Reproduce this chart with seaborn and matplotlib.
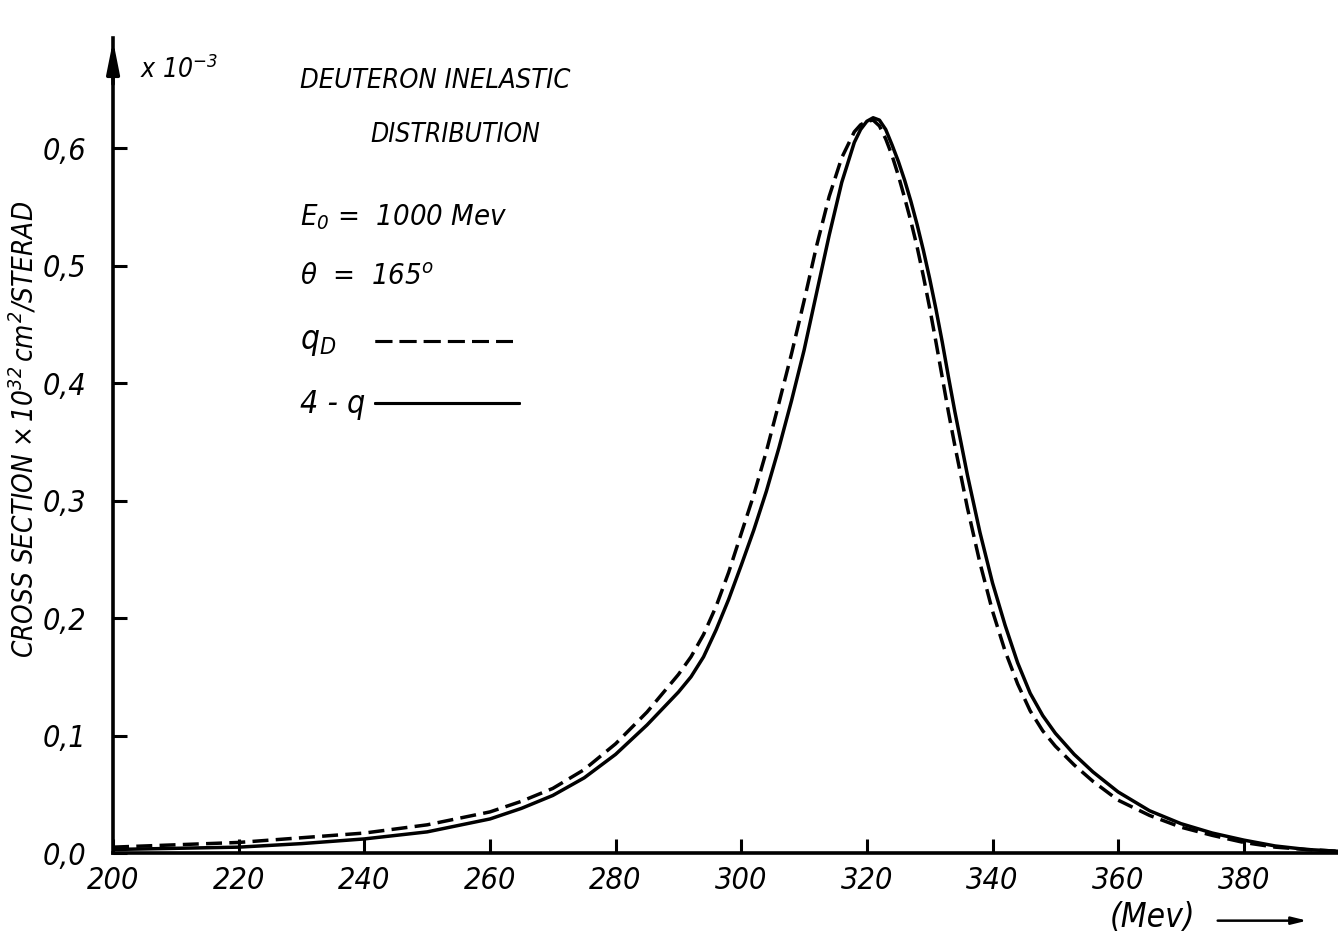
import matplotlib
matplotlib.use("Agg")
import matplotlib.pyplot as plt
from matplotlib.lines import Line2D
import pandas as pd
import seaborn as sns

# energy grid (MeV)
energy = [200, 210, 220, 230, 240, 250, 260, 265, 270, 275, 280, 285, 290, 292,
          294, 296, 298, 300, 302, 304, 306, 308, 310, 312, 314, 316, 318, 319,
          320, 321, 322, 323, 324, 325, 326, 327, 328, 329, 330, 331, 332, 333,
          334, 336, 338, 340, 342, 344, 346, 348, 350, 353, 356, 360, 365, 370,
          375, 380, 385, 390, 395]

# 4-q (solid)
sigma_4q = [0.003, 0.004, 0.005, 0.008, 0.012, 0.018, 0.029, 0.038, 0.049, 0.064,
            0.084, 0.109, 0.137, 0.150, 0.167, 0.190, 0.216, 0.245, 0.275, 0.308,
            0.345, 0.385, 0.428, 0.477, 0.526, 0.571, 0.605, 0.616, 0.623, 0.626,
            0.624, 0.616, 0.603, 0.589, 0.573, 0.555, 0.535, 0.513, 0.489, 0.463,
            0.435, 0.405, 0.376, 0.322, 0.273, 0.230, 0.194, 0.162, 0.136, 0.117,
            0.102, 0.084, 0.069, 0.052, 0.036, 0.025, 0.017, 0.011, 0.006, 0.003,
            0.0015]

# q_D (dashed)
sigma_qd = [0.005, 0.007, 0.009, 0.013, 0.017, 0.024, 0.035, 0.044, 0.055, 0.071,
            0.093, 0.120, 0.152, 0.167, 0.186, 0.210, 0.239, 0.272, 0.305, 0.342,
            0.383, 0.425, 0.470, 0.517, 0.559, 0.592, 0.614, 0.620, 0.623, 0.624,
            0.619, 0.608, 0.594, 0.577, 0.558, 0.538, 0.516, 0.491, 0.464, 0.435,
            0.405, 0.375, 0.347, 0.294, 0.247, 0.206, 0.172, 0.144, 0.121, 0.104,
            0.091, 0.075, 0.061, 0.045, 0.032, 0.022, 0.015, 0.009, 0.005, 0.003,
            0.0015]

x_ticks = [200, 220, 240, 260, 280, 300, 320, 340, 360, 380]
y_ticks = [0.0, 0.1, 0.2, 0.3, 0.4, 0.5, 0.6]
y_ticklabels = ["0,0", "0,1", "0,2", "0,3", "0,4", "0,5", "0,6"]

df = pd.DataFrame({
    "E": energy * 2,
    "sigma": sigma_qd + sigma_4q,
    "model": ["qD"] * len(energy) + ["4q"] * len(energy),
})

sns.set_style("ticks")
plt.rcParams["font.family"] = ["DejaVu Sans"]
plt.rcParams["font.stretch"] = "condensed"
plt.rcParams["font.style"] = "italic"
plt.rcParams["text.color"] = "black"
plt.rcParams["axes.labelcolor"] = "black"
plt.rcParams["xtick.color"] = "black"
plt.rcParams["ytick.color"] = "black"
plt.rcParams["axes.edgecolor"] = "black"
plt.rcParams["mathtext.fontset"] = "custom"
plt.rcParams["mathtext.it"] = "DejaVu Sans:style=italic:stretch=condensed"
plt.rcParams["mathtext.rm"] = "DejaVu Sans:style=italic:stretch=condensed"

fig = plt.figure(figsize=(13.38, 9.38), dpi=100)
ax = fig.add_axes([0.0845, 0.0906, 0.9155, 0.869])

sns.lineplot(data=df, x="E", y="sigma", style="model",
             dashes={"qD": (4.6, 2.1), "4q": ""}, color="black", lw=2.5,
             legend=False, ax=ax)

ax.set_xlim(200, 395)
ax.set_ylim(0, 0.694)
ax.set_xticks(x_ticks)
ax.set_xticklabels([str(t) for t in x_ticks])
ax.set_yticks(y_ticks)
ax.set_yticklabels(y_ticklabels)
ax.tick_params(direction="in", length=10, width=2.2, labelsize=22, pad=9)
ax.tick_params(axis="y", pad=19)
ax.set_xlabel("")
ax.set_ylabel(r"CROSS SECTION $\times\,10^{32}\,cm^{2}$/STERAD", fontsize=20)
ax.yaxis.set_label_coords(-0.06, 0.52)
for side in ["top", "right"]:
    ax.spines[side].set_visible(False)
ax.spines["left"].set_linewidth(2.6)
ax.spines["bottom"].set_linewidth(2.6)

# arrow head on the y axis
ax.annotate("", xy=(0, 1.0), xytext=(0, 0.94), xycoords="axes fraction",
            arrowprops=dict(arrowstyle="-|>,head_width=0.38,head_length=1.9",
                            color="black", lw=2.6), annotation_clip=False)

fig.text(0.1046, 0.917, r"x 10$^{-3}$", fontsize=19)
fig.text(0.224, 0.906, "DEUTERON INELASTIC", fontsize=19.5)
fig.text(0.2765, 0.849, "DISTRIBUTION", fontsize=19)
fig.text(0.224, 0.760, r"$E_{0}$ =  1000 Mev", fontsize=21)
fig.text(0.224, 0.696, r"$\theta$  =  165$^{o}$", fontsize=21)
fig.text(0.224, 0.628, r"$q_{D}$", fontsize=24)
fig.text(0.224, 0.560, "4 - q", fontsize=23)

# legend keys, one per curve, placed after the labels
key_dash = Line2D([], [], color="black", lw=2.2, dashes=(5.5, 2.4))
key_solid = Line2D([], [], color="black", lw=2.2)
for key, ypos in [(key_dash, 0.635), (key_solid, 0.568)]:
    leg = fig.legend([key], [""], loc="center left", bbox_to_anchor=(0.280, ypos),
                     frameon=False, handlelength=5.2, handletextpad=0.0,
                     borderpad=0.0, borderaxespad=0.0, fontsize=20)
    fig.add_artist(leg)

fig.text(0.829, 0.012, "(Mev)", fontsize=24)
ax.annotate("", xy=(0.979, 0.0185), xytext=(0.908, 0.0185),
            xycoords="figure fraction",
            arrowprops=dict(arrowstyle="-|>,head_width=0.22,head_length=0.9",
                            color="black", lw=1.8), annotation_clip=False)

fig.savefig("out.png", dpi=100)
